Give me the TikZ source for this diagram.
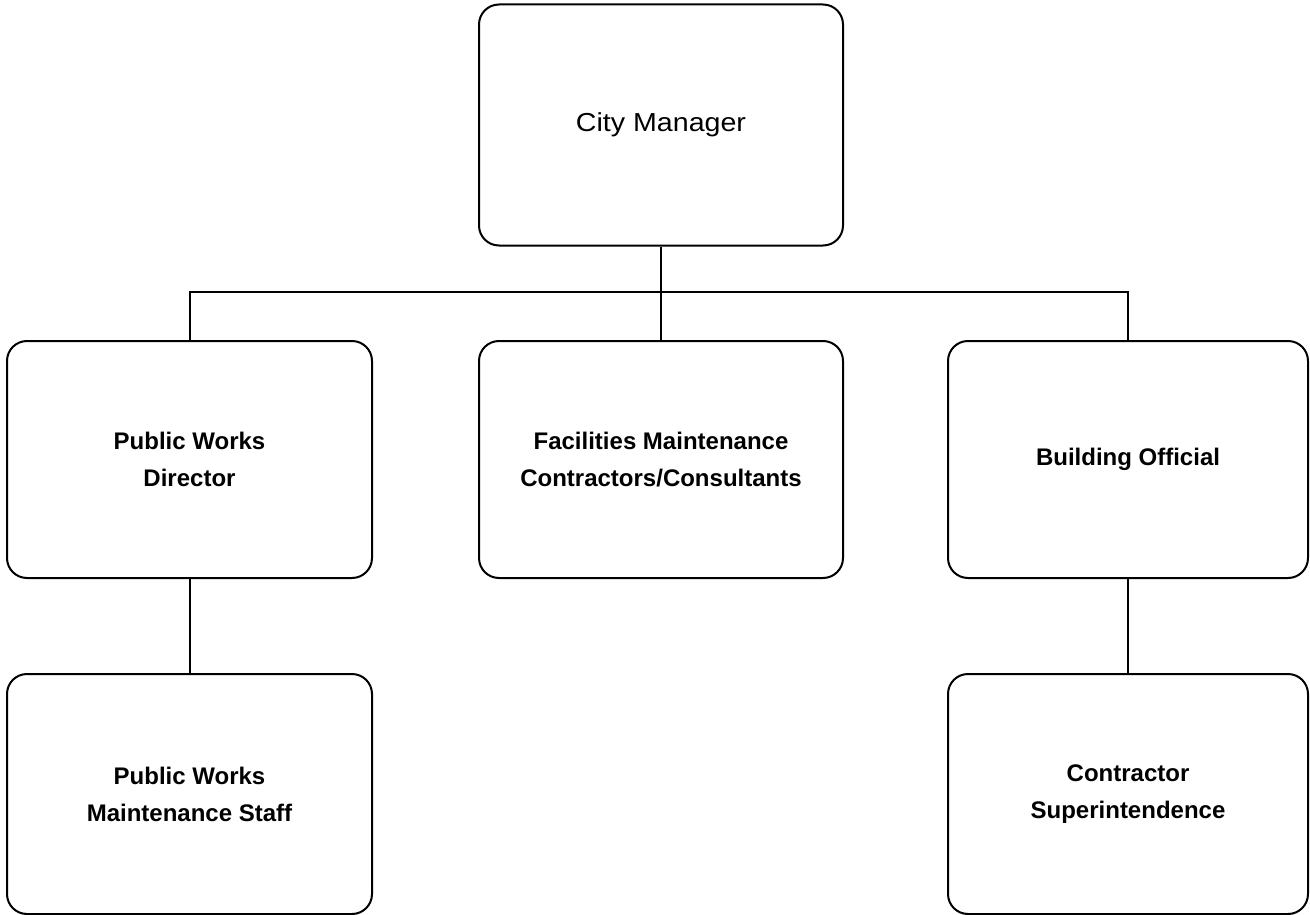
\documentclass[tikz,border=0pt]{standalone}
\usepackage{fontspec}
\setmainfont{Liberation Sans}
\begin{document}
\begin{tikzpicture}[x=1pt,y=-1pt,
  orgbox/.style={draw=black, line width=2pt, rounded corners=20pt,
    fill=white, align=center, inner sep=0pt,
    font=\fontsize{24}{37}\selectfont\bfseries},
  link/.style={draw=black, line width=2pt}]
  \useasboundingbox (0,0) rectangle (1310,915);

  % top level
  \node[orgbox, minimum width=364, minimum height=241, font=\fontsize{26}{30}\selectfont]
    (cm) at (661,125) {\scalebox{1.1}[1]{City Manager}};

  % second level
  \node[orgbox, minimum width=365, minimum height=237] (pwd) at (189.5,459.5)
    {Public Works\\Director};
  \node[orgbox, minimum width=364, minimum height=237] (fm) at (661,459.5)
    {Facilities Maintenance\\Contractors/Consultants};
  \node[orgbox, minimum width=360, minimum height=237] (bo) at (1128,459.5)
    {Building Official};

  % third level
  \node[orgbox, minimum width=365, minimum height=240] (pwms) at (189.5,794)
    {Public Works\\Maintenance Staff};
  \node[orgbox, minimum width=360, minimum height=240] (cs) at (1128,794)
    {Contractor\\Superintendence};

  % connectors
  \coordinate (junc) at (661,292);
  \draw[link] (cm.south) -- (fm.north);
  \draw[link] (pwd.north) |- (junc) -| (bo.north);
  \draw[link] (pwd.south) -- (pwms.north);
  \draw[link] (bo.south) -- (cs.north);
\end{tikzpicture}
\end{document}
